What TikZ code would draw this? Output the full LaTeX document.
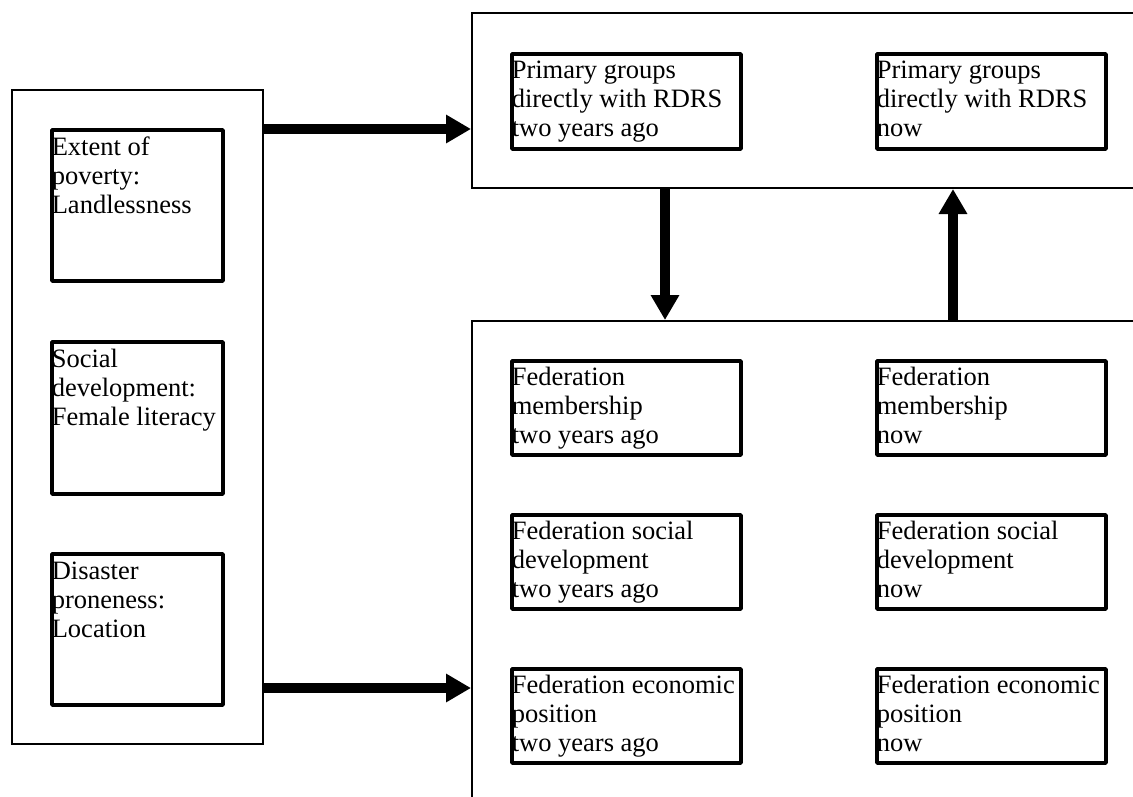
\documentclass[tikz,border=0pt]{standalone}
\usepackage{fontspec}
\setmainfont{Liberation Serif}
\usetikzlibrary{arrows.meta,calc}
\begin{document}
\begin{tikzpicture}[x=1pt,y=-1pt,
  frame/.style={draw, line width=2pt, inner sep=0pt, line join=miter},
  cell/.style={draw, line width=3.8pt, inner sep=0pt, line join=round},
  lbl/.style={anchor=north west, inner sep=0pt, align=left, font=\fontsize{26.5}{29}\selectfont},
  bigarrow/.style={line width=10.5pt, -{Triangle[length=25pt,width=27pt]}}]
\clip (0,0) rectangle (1133,796);
\fill[white] (0,0) rectangle (1133,796);
% outer frames
\node[frame, minimum width=251pt, minimum height=654pt] (L) at (137.5,417) {};
\node[frame, minimum width=680pt, minimum height=175pt] (T) at (812,100.5) {};
\node[frame, minimum width=680pt, minimum height=520pt] (B) at (812,581) {};
% left cells
\node[cell, minimum width=171pt, minimum height=151pt] (L1) at (137.5,205.5) {};
\node[cell, minimum width=171pt, minimum height=152pt] (L2) at (137.5,418) {};
\node[cell, minimum width=171pt, minimum height=151pt] (L3) at (137.5,629.5) {};
% top cells
\node[cell, minimum width=229pt, minimum height=95pt] (T1) at (626.5,101.5) {};
\node[cell, minimum width=229pt, minimum height=95pt] (T2) at (991.5,101.5) {};
% bottom cells
\node[cell, minimum width=229pt, minimum height=94pt] (B1) at (626.5,408) {};
\node[cell, minimum width=229pt, minimum height=94pt] (B2) at (991.5,408) {};
\node[cell, minimum width=229pt, minimum height=94pt] (B3) at (626.5,562) {};
\node[cell, minimum width=229pt, minimum height=94pt] (B4) at (991.5,562) {};
\node[cell, minimum width=229pt, minimum height=94pt] (B5) at (626.5,716) {};
\node[cell, minimum width=229pt, minimum height=94pt] (B6) at (991.5,716) {};
% labels
\node[lbl] (L1t) at ($(L1.north west)+(1.5,5)$) {\rule{0pt}{22pt}Extent of\\poverty:\\Landlessness};
\node[lbl] (L2t) at ($(L2.north west)+(1.5,5)$) {\rule{0pt}{22pt}Social\\development:\\Female literacy};
\node[lbl] (L3t) at ($(L3.north west)+(1.5,5)$) {\rule{0pt}{22pt}Disaster\\proneness:\\Location};
\node[lbl] (T1t) at ($(T1.north west)+(1.5,4)$) {\rule{0pt}{22pt}Primary groups\\directly with RDRS\\two years ago};
\node[lbl] (T2t) at ($(T2.north west)+(1.5,4)$) {\rule{0pt}{22pt}Primary groups\\directly with RDRS\\now};
\node[lbl] (B1t) at ($(B1.north west)+(1.5,4)$) {\rule{0pt}{22pt}Federation\\membership\\two years ago};
\node[lbl] (B2t) at ($(B2.north west)+(1.5,4)$) {\rule{0pt}{22pt}Federation\\membership\\now};
\node[lbl] (B3t) at ($(B3.north west)+(1.5,4)$) {\rule{0pt}{22pt}Federation social\\development\\two years ago};
\node[lbl] (B4t) at ($(B4.north west)+(1.5,4)$) {\rule{0pt}{22pt}Federation social\\development\\now};
\node[lbl] (B5t) at ($(B5.north west)+(1.5,4)$) {\rule{0pt}{22pt}Federation economic\\position\\two years ago};
\node[lbl] (B6t) at ($(B6.north west)+(1.5,4)$) {\rule{0pt}{22pt}Federation economic\\position\\now};
% arrows
\coordinate (a1) at ($(L.north east)+(0,40)$);
\coordinate (a2) at ($(L.south east)+(0,-57)$);
\coordinate (d1) at (665,0);
\coordinate (u1) at (953,0);
\draw[bigarrow] (a1) -- (a1 -| T.west);
\draw[bigarrow] (a2) -- (a2 -| B.west);
\draw[bigarrow] (d1 |- T.south) -- (d1 |- B.north);
\draw[bigarrow] (u1 |- B.north) -- (u1 |- T.south);
\end{tikzpicture}
\end{document}
